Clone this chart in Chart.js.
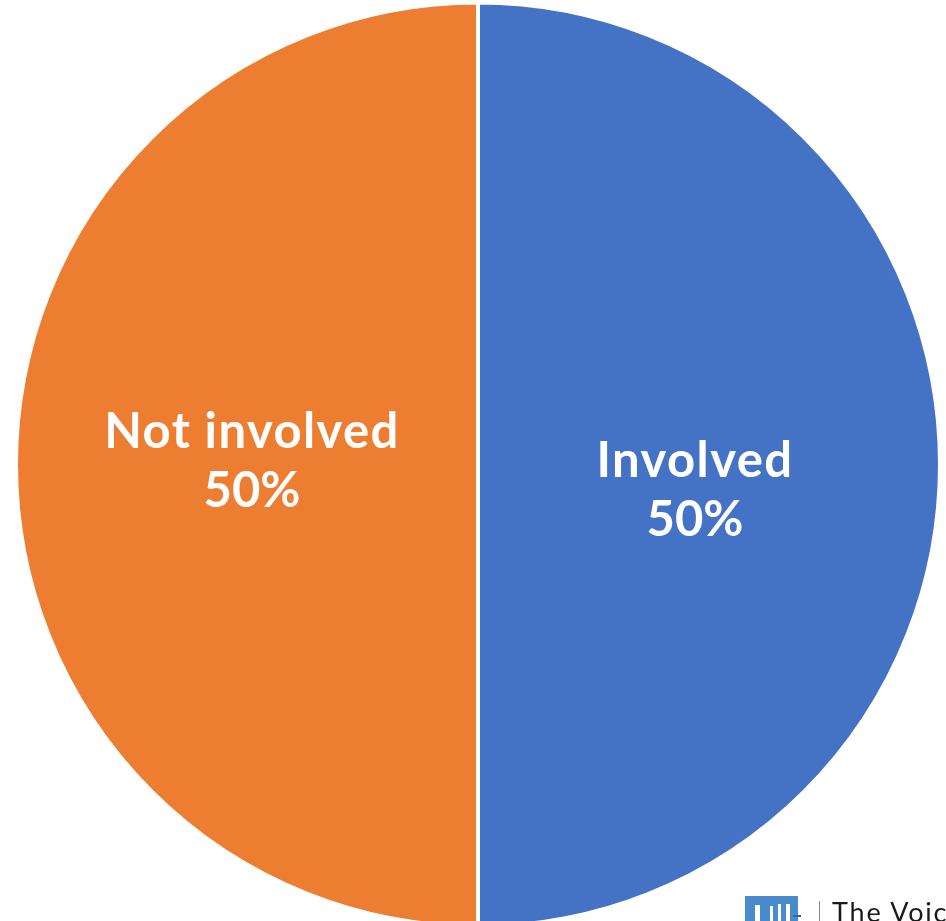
<!doctype html>
<html>
<head>
  <meta charset="utf-8" />
  <title>Involved / Not involved</title>
  <script src="https://cdn.jsdelivr.net/npm/chart.js@4"></script>
  <style>
    html, body { margin:0; padding:0; width:946px; height:921px; overflow:hidden; background:#fff; }
    #wrap { position:absolute; left:0; top:0; width:946px; height:929px; }
    #logo { position:absolute; left:745px; top:896px; width:53px; height:40px; background:#4a8ccb; }
    #logo i { position:absolute; background:#fff; display:block; }
    #logo b { position:absolute; background:#2a66b0; display:block; }
    #rule { position:absolute; left:819px; top:901px; width:1px; height:20px; background:#888; }
    #voice { position:absolute; left:832px; top:894px; width:114px; height:27px; overflow:hidden; white-space:nowrap;
             font:27px "Lato", sans-serif; letter-spacing:1.8px; color:#1a1a1a; line-height:36px; }
  </style>
</head>
<body>
<div id="wrap"><canvas id="myChart" width="946" height="929"></canvas></div>
<div id="logo">
  <i style="left:10px;top:9px;width:5px;height:16px"></i>
  <i style="left:25px;top:10px;width:3px;height:15px"></i>
  <i style="left:33px;top:8px;width:3px;height:17px"></i>
  <i style="left:41px;top:8px;width:4px;height:17px"></i>
  <b style="left:48px;top:19px;width:8px;height:2px"></b>
</div>
<div id="rule"></div>
<div id="voice">The Voice</div>

<script>
const categories = ["Involved", "Not involved"];
const shares = [50, 50];
const sliceColors = ["#4472C4", "#ED7D31"];

// nudges from the slice centre to where the labels sit
const labelShift = [[-14, 26], [5, -3]];
const labelFont = "bold 49px Lato, sans-serif";
const lineGap = 59;

const sliceLabels = {
  id: "sliceLabels",
  afterDatasetsDraw(chart) {
    const c = chart.ctx;
    const arcs = chart.getDatasetMeta(0).data;
    c.save();
    c.fillStyle = "#fff";
    c.font = labelFont;
    c.textAlign = "center";
    c.textBaseline = "middle";
    arcs.forEach((arc, i) => {
      const p = arc.tooltipPosition();
      const x = p.x + labelShift[i][0];
      const y = p.y + labelShift[i][1];
      c.letterSpacing = "1.4px";
      c.fillText(categories[i], x, y - lineGap / 2);
      c.letterSpacing = "0px";
      c.fillText(shares[i] + "%", x, y + lineGap / 2);
    });
    c.restore();
  }
};

new Chart("myChart", {
  type: "pie",
  data: {
    labels: categories,
    datasets: [{
      data: shares,
      backgroundColor: sliceColors,
      borderColor: "#fff",
      borderWidth: 4
    }]
  },
  options: {
    responsive: false,
    animation: false,
    radius: 462,
    layout: { padding: { left: 10 } },
    plugins: { legend: { display: false }, tooltip: { enabled: false } }
  },
  plugins: [sliceLabels]
});
</script>
</body>
</html>
